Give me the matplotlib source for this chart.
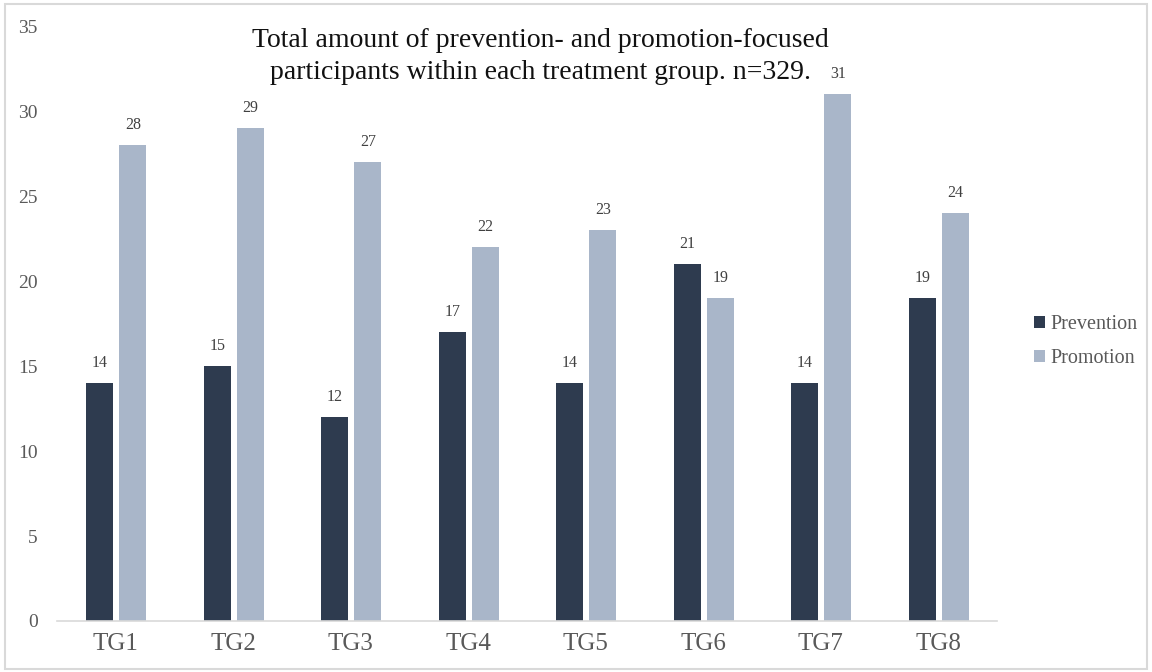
import matplotlib.pyplot as plt
from matplotlib.patches import Rectangle
import numpy as np

groups = ["TG1", "TG2", "TG3", "TG4", "TG5", "TG6", "TG7", "TG8"]
prevention = [14, 15, 12, 17, 14, 21, 14, 19]
promotion = [28, 29, 27, 22, 23, 19, 31, 24]
y_ticks = [0, 5, 10, 15, 20, 25, 30, 35]

dark = "#2e3b4f"
light = "#a9b6c9"
grey_text = "#595959"

plt.rcParams['font.family'] = ['Liberation Serif', 'DejaVu Serif']

fig = plt.figure(figsize=(11.52, 6.72), dpi=100)
ax = fig.add_axes([0.0495, 0.0759, 0.816, 0.885])

x = np.arange(len(groups))
width = 0.23
b1 = ax.bar(x - 0.135, prevention, width, color=dark, label="Prevention")
b2 = ax.bar(x + 0.145, promotion, width, color=light, label="Promotion")

for bars, vals in ((b1, prevention), (b2, promotion)):
    for rect, v in zip(bars, vals):
        ax.text(rect.get_x() + rect.get_width() / 2, v + 0.7, str(v),
                ha='center', va='bottom', fontsize=11.5, color="#404040")

ax.set_xlim(-0.5, len(groups) - 0.5)
ax.set_ylim(0, 35)
ax.set_yticks(y_ticks)
ax.set_xticks(x)
ax.set_xticklabels(groups)
ax.tick_params(axis='y', length=0, labelsize=14, labelcolor=grey_text, pad=14)
ax.tick_params(axis='x', length=0, labelsize=18, labelcolor=grey_text, pad=9)
for side in ('top', 'right', 'left'):
    ax.spines[side].set_visible(False)
ax.spines['bottom'].set_color("#d9d9d9")
ax.spines['bottom'].set_linewidth(1.2)

fig.text(0.469, 0.958, "Total amount of prevention- and promotion-focused\n"
         "participants within each treatment group. n=329.",
         ha='center', va='top', fontsize=20, linespacing=1.38, color="#111111")

ax.legend(loc='center left', bbox_to_anchor=(1.02, 0.47), frameon=False,
          fontsize=14.5, handlelength=0.55, handleheight=0.55,
          handletextpad=0.25, labelspacing=0.75, labelcolor=grey_text)

# thin border round the whole figure
fig.patches.append(Rectangle((0.004, 0.004), 0.992, 0.99, transform=fig.transFigure,
                             fill=False, edgecolor="#d9d9d9", linewidth=1.5))

fig.savefig("out.png", dpi=100)
